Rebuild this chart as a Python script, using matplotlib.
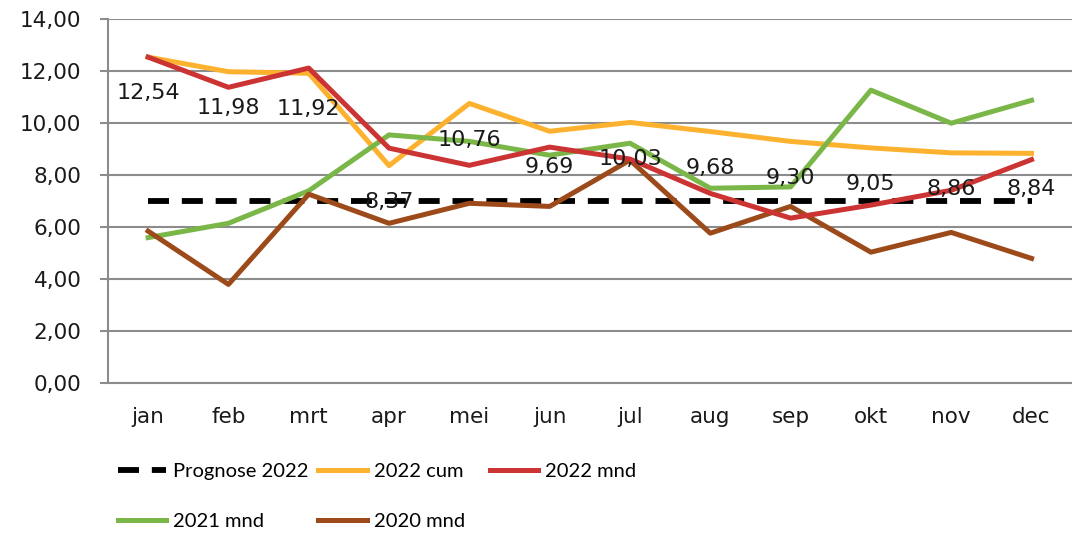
import matplotlib.pyplot as plt
from matplotlib.ticker import FuncFormatter

maanden = ['jan', 'feb', 'mrt', 'apr', 'mei', 'jun', 'jul', 'aug', 'sep', 'okt', 'nov', 'dec']
prognose_2022 = [7.0] * 12
cum_2022 = [12.54, 11.98, 11.92, 8.37, 10.76, 9.69, 10.03, 9.68, 9.30, 9.05, 8.86, 8.84]
mnd_2022 = [12.54, 11.38, 12.12, 9.04, 8.38, 9.08, 8.62, 7.30, 6.35, 6.85, 7.42, 8.60]
mnd_2021 = [5.60, 6.15, 7.40, 9.55, 9.30, 8.77, 9.23, 7.50, 7.55, 11.27, 10.00, 10.88]
mnd_2020 = [5.85, 3.80, 7.27, 6.15, 6.92, 6.80, 8.58, 5.77, 6.80, 5.04, 5.80, 4.80]

grijs = '#8c8c8c'

fig = plt.figure(figsize=(10.72, 5.33), dpi=100)
ax = fig.add_axes([0.1007, 0.281, 0.899, 0.683])

x = range(len(maanden))
l_prog, = ax.plot(x, prognose_2022, color='black', lw=4.2, dashes=(3.6, 2.2), zorder=3)
l_cum, = ax.plot(x, cum_2022, color='#fdb22f', lw=3.6, zorder=4)
l_22, = ax.plot(x, mnd_2022, color='#cc3333', lw=3.6, zorder=5)
l_21, = ax.plot(x, mnd_2021, color='#7ab648', lw=3.6, zorder=4)
l_20, = ax.plot(x, mnd_2020, color='#9c4a1a', lw=3.6, zorder=4)

# labels van cumulatief onder de punten
for i, v in enumerate(cum_2022):
    ax.annotate(f'{v:.2f}'.replace('.', ','), (i, v), xytext=(0, -26),
                textcoords='offset points', ha='center', va='center',
                fontsize=16, color='#1a1a1a', zorder=6)

ax.set_xlim(-0.5, 11.5)
ax.set_ylim(0, 14)
ax.set_yticks(range(0, 15, 2))
ax.yaxis.set_major_formatter(FuncFormatter(lambda v, p: f'{v:.2f}'.replace('.', ',')))
ax.set_xticks(list(x))
ax.set_xticklabels(maanden)
ax.grid(axis='y', color=grijs, lw=1.5)
ax.set_axisbelow(True)
for s in ['top', 'right']:
    ax.spines[s].set_visible(False)
ax.spines['left'].set_color(grijs)
ax.spines['left'].set_linewidth(1.5)
ax.spines['bottom'].set_color(grijs)
ax.spines['bottom'].set_linewidth(1.5)
ax.tick_params(axis='y', length=6, width=1.5, color=grijs, pad=13, labelsize=15.5, labelcolor='#1a1a1a')
ax.tick_params(axis='x', length=0, pad=17, labelsize=15.5, labelcolor='#1a1a1a')

# legenda: drie kolommen
kolommen = [([l_prog, l_21], ['Prognose 2022', '2021 mnd'], 0.11),
            ([l_cum, l_20], ['2022 cum', '2020 mnd'], 0.297),
            ([l_22], ['2022 mnd'], 0.457)]
for h, lab, xpos in kolommen:
    fig.legend(h, lab, loc='upper left', bbox_to_anchor=(xpos, 0.131),
               frameon=False, prop={'family': 'Lato', 'size': 14.5},
               handlelength=2.4, handletextpad=0.35, labelspacing=1.6,
               borderaxespad=0, borderpad=0)

fig.savefig('out.png', dpi=100)
